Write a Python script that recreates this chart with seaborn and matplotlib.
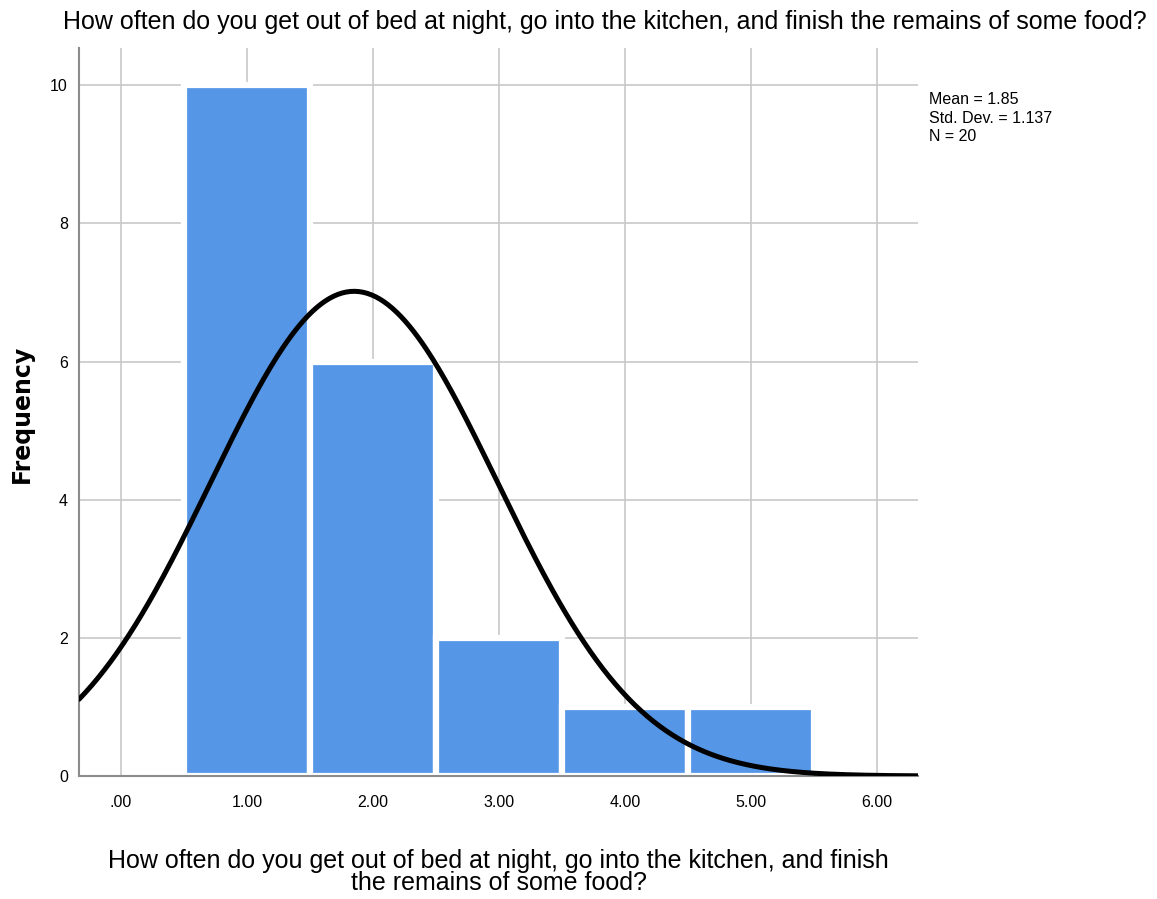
import numpy as np
import pandas as pd
import seaborn as sns
import matplotlib
import matplotlib.pyplot as plt

matplotlib.use('Agg')

# Answer values and how many respondents gave each
answers = [1, 2, 3, 4, 5]
counts = [10, 6, 2, 1, 1]
x_ticks = [0, 1, 2, 3, 4, 5, 6]
x_tick_labels = ['.00', '1.00', '2.00', '3.00', '4.00', '5.00', '6.00']
y_ticks = [0, 2, 4, 6, 8, 10]

mean_val = 1.85
std_val = 1.137
n_val = 20

question = 'How often do you get out of bed at night, go into the kitchen, and finish the remains of some food?'
xlabel_text = 'How often do you get out of bed at night, go into the kitchen, and finish\nthe remains of some food?'

# one row per respondent
df = pd.DataFrame({'answer': np.repeat(answers, counts)})

sns.set_style('white')
plt.rcParams['font.family'] = ['Liberation Sans', 'DejaVu Sans']
plt.rcParams['text.color'] = 'black'

fig = plt.figure(figsize=(11.57, 8.99), dpi=100)
ax = fig.add_axes([0.0683, 0.1368, 0.7251, 0.8098])

sns.histplot(data=df, x='answer', binwidth=1, binrange=(0.5, 5.5),
             color='#5596e6', alpha=1, edgecolor='white', linewidth=4.5, ax=ax, zorder=2)

# fitted normal curve (from the reported mean / std dev, scaled by N)
xs = np.linspace(-0.333, 6.33, 400)
ys = n_val * np.exp(-0.5 * ((xs - mean_val) / std_val) ** 2) / (std_val * np.sqrt(2 * np.pi))
sns.lineplot(x=xs, y=ys, color='black', linewidth=3.6, ax=ax, zorder=3)

ax.set_xlim(-0.333, 6.325)
ax.set_ylim(0, 10.54)
ax.set_xticks(x_ticks)
ax.set_xticklabels(x_tick_labels)
ax.set_yticks(y_ticks)
ax.grid(True, color='#c8c8c8', linewidth=1.2, zorder=0)
ax.set_axisbelow(True)
ax.tick_params(axis='both', length=0, labelsize=11.5, labelcolor='black')
ax.tick_params(axis='x', pad=14)
ax.tick_params(axis='y', pad=8)
for side in ['top', 'right']:
    ax.spines[side].set_visible(False)
for side in ['left', 'bottom']:
    ax.spines[side].set_color('#8c8c8c')
    ax.spines[side].set_linewidth(1.5)

ax.set_xlabel(xlabel_text, fontsize=18, labelpad=28, linespacing=0.9, color='black')
ax.set_ylabel('Frequency', fontsize=17, fontweight='bold', family='DejaVu Sans',
              color='black', va='center', ha='center')
ax.yaxis.set_label_coords(-0.068, 0.497)

fig.text(0.523, 0.9755, question, ha='center', va='center', fontsize=18)
fig.text(0.803, 0.8977, 'Mean = 1.85\nStd. Dev. = 1.137\nN = 20',
         ha='left', va='top', fontsize=11.5, linespacing=1.3)

fig.savefig('out.png', dpi=100)
